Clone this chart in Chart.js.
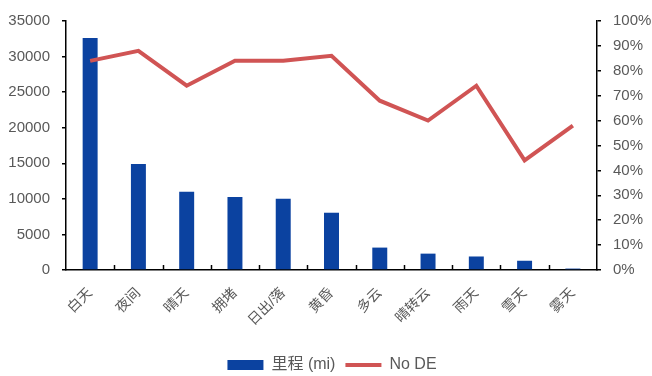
<!DOCTYPE html>
<html>
<head>
<meta charset="utf-8">
<script src="https://cdn.jsdelivr.net/npm/chart.js@4.4.0/dist/chart.umd.min.js"></script>
<style>
  html, body { margin: 0; padding: 0; background: #fff; }
  #wrap { width: 652px; height: 376px; }
</style>
</head>
<body>
<div id="wrap"><canvas id="chart"></canvas></div>
<script>
const categories = ['白天', '夜间', '晴天', '拥堵', '日出/落', '黄昏', '多云', '晴转云', '雨天', '雪天', '雾天'];
const mileage = [32600, 14900, 11000, 10250, 10000, 8050, 3150, 2300, 1900, 1300, 200];
const noDE = [84, 88, 74, 84, 84, 86, 68, 60, 74, 44, 58];

const leftTicks = { min: 0, max: 35000, step: 5000 };
const rightTicks = { min: 0, max: 100, step: 10 };

Chart.defaults.font.family = "'Liberation Sans', 'Noto Sans CJK SC', sans-serif";
Chart.defaults.color = '#595959';

// x axis tick marks point up into the plot, like the original
const innerTicks = {
    id: 'innerTicks',
    afterLayout(chart) {
        // nudge the legend to where the original has it
        chart.legend.top += 7;
        chart.legend.bottom += 7;
        chart.legend.left += 6;
        chart.legend.right += 6;
    },
    afterDraw(chart) {
        const x = chart.scales.x;
        const ctx = chart.ctx;
        const bottom = chart.chartArea.bottom;
        ctx.save();
        ctx.strokeStyle = '#000';
        ctx.lineWidth = 1.5;
        for (let i = 1; i < categories.length; i++) {
            const px = Math.round(x.getPixelForValue(i - 0.5)) + 0.5;
            ctx.beginPath();
            ctx.moveTo(px, bottom);
            ctx.lineTo(px, bottom - 5);
            ctx.stroke();
        }
        ctx.restore();
    },
};

const ctx = document.getElementById('chart');
new Chart(ctx, {
    data: {
        labels: categories,
        datasets: [
            {
                type: 'bar',
                label: '里程 (mi)',
                data: mileage,
                backgroundColor: '#0B42A0',
                borderWidth: 0,
                barPercentage: 0.31,
                categoryPercentage: 1,
                pointStyle: 'rect',
                yAxisID: 'y',
                order: 2,
            },
            {
                type: 'line',
                label: 'No DE',
                data: noDE,
                borderColor: '#D05454',
                backgroundColor: '#D05454',
                borderWidth: 4,
                pointRadius: 0,
                pointStyle: 'line',
                tension: 0,
                yAxisID: 'y1',
                order: 1,
            },
        ],
    },
    options: {
        responsive: true,
        maintainAspectRatio: false,
        animation: false,
        layout: { padding: { top: 15, left: 0, right: 0, bottom: 0 } },
        plugins: {
            tooltip: { enabled: false },
            legend: {
                position: 'bottom',
                labels: {
                    usePointStyle: true,
                    pointStyleWidth: 36,
                    boxHeight: 10,
                    padding: 10,
                    font: { size: 16 },
                    color: '#595959',
                    sort: (a, b) => a.datasetIndex - b.datasetIndex,
                },
            },
        },
        scales: {
            x: {
                grid: { display: true, drawOnChartArea: false, drawTicks: false },
                border: { color: '#000', width: 1.5 },
                ticks: { minRotation: 45, maxRotation: 45, padding: 15, font: { size: 14 }, autoSkip: false },
                afterFit: (scale) => {
                    scale.height = 376 - 270 - scale.chart.legend.height;
                },
            },
            y: {
                position: 'left',
                min: leftTicks.min,
                max: leftTicks.max,
                grid: { drawOnChartArea: false, drawTicks: true, tickLength: 4, color: '#000', lineWidth: 1.5 },
                border: { color: '#000', width: 1.5 },
                ticks: { stepSize: leftTicks.step, padding: 12, font: { size: 15 }, callback: (v) => String(v) },
                afterFit: (scale) => { scale.width = 66; },
            },
            y1: {
                position: 'right',
                min: rightTicks.min,
                max: rightTicks.max,
                grid: { drawOnChartArea: false, drawTicks: true, tickLength: 4, color: '#000', lineWidth: 1.5 },
                border: { color: '#000', width: 1.5 },
                ticks: { stepSize: rightTicks.step, padding: 12, font: { size: 15 }, callback: (v) => v + '%' },
                afterFit: (scale) => { scale.width = 55; },
            },
        },
    },
    plugins: [innerTicks],
});
</script>
</body>
</html>
